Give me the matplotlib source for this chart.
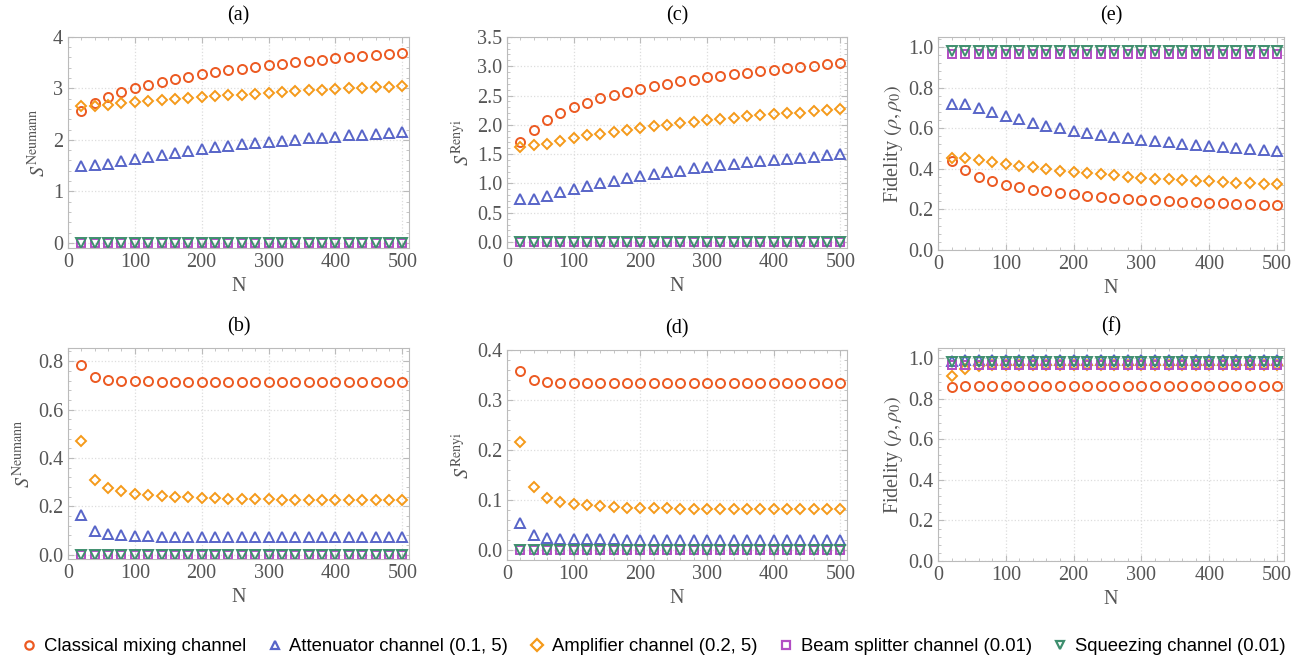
import numpy as np
import matplotlib.pyplot as plt
from matplotlib.ticker import MultipleLocator, AutoMinorLocator, FormatStrFormatter
from matplotlib.lines import Line2D

plt.rcParams['font.family'] = ['Liberation Serif', 'DejaVu Serif']
plt.rcParams['mathtext.fontset'] = 'stix'

N = np.arange(20, 501, 20)

# (a) von Neumann entropy, row 1
a_mix = [2.56, 2.72, 2.83, 2.93, 3.01, 3.07, 3.13, 3.19, 3.23, 3.27, 3.31, 3.35, 3.385,
         3.42, 3.45, 3.48, 3.51, 3.53, 3.55, 3.58, 3.60, 3.62, 3.64, 3.66, 3.68]
a_att = [1.50, 1.51, 1.54, 1.58, 1.62, 1.67, 1.71, 1.75, 1.79, 1.82, 1.86, 1.88, 1.91,
         1.93, 1.955, 1.98, 2.00, 2.03, 2.045, 2.065, 2.085, 2.10, 2.12, 2.14, 2.155]
a_amp = [2.65, 2.66, 2.68, 2.71, 2.73, 2.75, 2.78, 2.79, 2.81, 2.83, 2.85, 2.87, 2.88,
         2.89, 2.91, 2.93, 2.945, 2.96, 2.97, 2.98, 3.00, 3.01, 3.02, 3.035, 3.05]
a_bs = [0.0] * 25
a_sq = [0.0] * 25

# (c) Renyi entropy, row 1
c_mix = [1.71, 1.92, 2.08, 2.20, 2.30, 2.38, 2.45, 2.51, 2.56, 2.61, 2.66, 2.70, 2.74,
         2.77, 2.81, 2.83, 2.86, 2.89, 2.92, 2.94, 2.97, 2.99, 3.00, 3.03, 3.05]
c_att = [0.73, 0.74, 0.79, 0.85, 0.905, 0.96, 1.01, 1.05, 1.09, 1.13, 1.16, 1.195, 1.22,
         1.26, 1.28, 1.31, 1.34, 1.36, 1.38, 1.40, 1.42, 1.44, 1.46, 1.48, 1.50]
c_amp = [1.63, 1.65, 1.68, 1.73, 1.78, 1.82, 1.85, 1.88, 1.92, 1.95, 1.975, 2.00, 2.03,
         2.055, 2.08, 2.10, 2.12, 2.145, 2.16, 2.18, 2.20, 2.21, 2.23, 2.25, 2.265]
c_bs = [0.0] * 25
c_sq = [0.0] * 25

# (e) fidelity, row 1
e_mix = [0.438, 0.392, 0.361, 0.339, 0.321, 0.308, 0.298, 0.289, 0.280, 0.274, 0.267, 0.262, 0.257,
         0.252, 0.248, 0.244, 0.241, 0.238, 0.234, 0.231, 0.230, 0.226, 0.225, 0.223, 0.220]
e_att = [0.721, 0.720, 0.700, 0.680, 0.660, 0.645, 0.628, 0.613, 0.600, 0.588, 0.577, 0.567, 0.559,
         0.551, 0.543, 0.536, 0.530, 0.523, 0.516, 0.511, 0.507, 0.502, 0.497, 0.492, 0.487]
e_amp = [0.454, 0.452, 0.443, 0.433, 0.423, 0.415, 0.407, 0.398, 0.390, 0.384, 0.377, 0.372, 0.367,
         0.362, 0.357, 0.352, 0.349, 0.344, 0.341, 0.338, 0.334, 0.331, 0.328, 0.325, 0.323]
e_bs = [0.965] * 25
e_sq = [0.98] * 25

# (b) von Neumann entropy, row 2
b_mix = [0.785, 0.735, 0.724, 0.720, 0.717, 0.716, 0.715, 0.714, 0.714, 0.714, 0.714, 0.713, 0.713,
         0.713, 0.713, 0.713, 0.713, 0.713, 0.713, 0.713, 0.713, 0.713, 0.713, 0.713, 0.713]
b_att = [0.166, 0.099, 0.086, 0.080, 0.077, 0.076, 0.075, 0.075, 0.075, 0.074, 0.074, 0.074, 0.074,
         0.073, 0.073, 0.073, 0.073, 0.073, 0.073, 0.072, 0.072, 0.072, 0.072, 0.072, 0.072]
b_amp = [0.468, 0.310, 0.276, 0.262, 0.252, 0.247, 0.243, 0.240, 0.237, 0.235, 0.233, 0.232, 0.230,
         0.229, 0.229, 0.228, 0.227, 0.226, 0.226, 0.225, 0.225, 0.225, 0.224, 0.224, 0.224]
b_bs = [0.0] * 25
b_sq = [0.0] * 25

# (d) Renyi entropy, row 2
d_mix = [0.359, 0.340, 0.336, 0.335, 0.334, 0.334, 0.334, 0.3335, 0.3335, 0.3335, 0.3335, 0.3335, 0.3335,
         0.3335, 0.3335, 0.3335, 0.3335, 0.3335, 0.3335, 0.3335, 0.3335, 0.3335, 0.3335, 0.3335, 0.3335]
d_att = [0.054, 0.030, 0.025, 0.023, 0.0226, 0.022, 0.022, 0.022, 0.0215, 0.0215, 0.0215, 0.021, 0.021,
         0.021, 0.021, 0.021, 0.021, 0.021, 0.021, 0.021, 0.021, 0.021, 0.021, 0.021, 0.021]
d_amp = [0.217, 0.126, 0.105, 0.097, 0.092, 0.090, 0.088, 0.086, 0.0857, 0.085, 0.084, 0.084, 0.0835,
         0.0835, 0.083, 0.083, 0.083, 0.083, 0.0825, 0.0825, 0.0825, 0.082, 0.082, 0.082, 0.082]
d_bs = [0.0] * 25
d_sq = [0.0] * 25

# (f) fidelity, row 2
f_mix = [0.855, 0.862, 0.863, 0.863, 0.863, 0.863, 0.863, 0.863, 0.863, 0.863, 0.863, 0.863, 0.863,
         0.863, 0.863, 0.863, 0.863, 0.863, 0.863, 0.863, 0.863, 0.863, 0.863, 0.863, 0.863]
f_att = [0.985] + [0.99] * 24
f_amp = [0.913, 0.948, 0.960, 0.964, 0.966, 0.967, 0.968, 0.968, 0.968, 0.968, 0.968, 0.968, 0.968,
         0.968, 0.968, 0.968, 0.968, 0.968, 0.968, 0.968, 0.968, 0.968, 0.968, 0.968, 0.968]
f_bs = [0.965] * 25
f_sq = [0.98] * 25

labels = ['Classical mixing channel', 'Attenuator channel (0.1, 5)', 'Amplifier channel (0.2, 5)',
          'Beam splitter channel (0.01)', 'Squeezing channel (0.01)']
colors = ['#EC5A22', '#5865C8', '#F59A1A', '#B24DC4', '#3E8E6E']
markers = ['o', '^', 'D', 's', 'v']
msizes = [6.5, 7, 5.5, 6, 7.5]

gray = '#555555'
framec = '#BBBBBB'

panels = [
    ('(a)', [a_mix, a_att, a_amp, a_bs, a_sq], (-0.1, 4.0), 1.0, '%d', r'$S^{\mathrm{Neumann}}$',
     [0.0518, 0.6265, 0.2599, 0.318]),
    ('(c)', [c_mix, c_att, c_amp, c_bs, c_sq], (-0.1, 3.5), 0.5, '%.1f', r'$S^{\mathrm{Renyi}}$',
     [0.3864, 0.6265, 0.2592, 0.318]),
    ('(e)', [e_mix, e_att, e_amp, e_bs, e_sq], (0.0, 1.05), 0.2, '%.1f', r'Fidelity $(\rho,\rho_0)$',
     [0.7149, 0.6235, 0.2637, 0.321]),
    ('(b)', [b_mix, b_att, b_amp, b_bs, b_sq], (-0.018, 0.855), 0.2, '%.1f', r'$S^{\mathrm{Neumann}}$',
     [0.0518, 0.1581, 0.2599, 0.318]),
    ('(d)', [d_mix, d_att, d_amp, d_bs, d_sq], (-0.019, 0.4), 0.1, '%.1f', r'$S^{\mathrm{Renyi}}$',
     [0.3864, 0.1566, 0.2592, 0.3163]),
    ('(f)', [f_mix, f_att, f_amp, f_bs, f_sq], (0.0, 1.05), 0.2, '%.1f', r'Fidelity $(\rho,\rho_0)$',
     [0.7149, 0.1551, 0.2637, 0.321]),
]

fig = plt.figure(figsize=(13.12, 6.64), dpi=100)

for title, series, ylim, ystep, fmt, ylab, rect in panels:
    ax = fig.add_axes(rect)
    for vals, c, m, ms in zip(series, colors, markers, msizes):
        ax.plot(N, vals, linestyle='none', marker=m, markersize=ms, markerfacecolor='none',
                markeredgecolor=c, markeredgewidth=1.4)
    ax.set_xlim(0, 510)
    ax.set_ylim(*ylim)
    ax.xaxis.set_major_locator(MultipleLocator(100))
    ax.xaxis.set_minor_locator(AutoMinorLocator(5))
    ax.yaxis.set_major_locator(MultipleLocator(ystep))
    ax.yaxis.set_minor_locator(AutoMinorLocator(5))
    ax.yaxis.set_major_formatter(FormatStrFormatter(fmt))
    ax.grid(True, which='major', color='#DDDDDD', linestyle=':', linewidth=0.9)
    ax.tick_params(which='both', direction='in', top=True, right=True, colors=framec,
                   labelcolor=gray, labelsize=14.5)
    ax.tick_params(which='major', length=4)
    ax.tick_params(which='minor', length=2)
    for sp in ax.spines.values():
        sp.set_color(framec)
    ax.set_title(title, fontsize=14.5, pad=12)
    ax.set_xlabel('N', fontsize=14.5, color=gray, labelpad=4)
    ax.set_ylabel(ylab, fontsize=14.5, color=gray, labelpad=2)

handles = [Line2D([], [], linestyle='none', marker=m, markersize=6, markerfacecolor='none',
                  markeredgecolor=c, markeredgewidth=1.6) for c, m in zip(colors, markers)]
fig.legend(handles, labels, loc='center', bbox_to_anchor=(0.4975, 0.026), ncol=5, frameon=False,
           prop={'family': 'Liberation Sans', 'size': 13.3}, handletextpad=0.3, columnspacing=1.05,
           handlelength=1.0)

fig.savefig('out.png', dpi=100)
